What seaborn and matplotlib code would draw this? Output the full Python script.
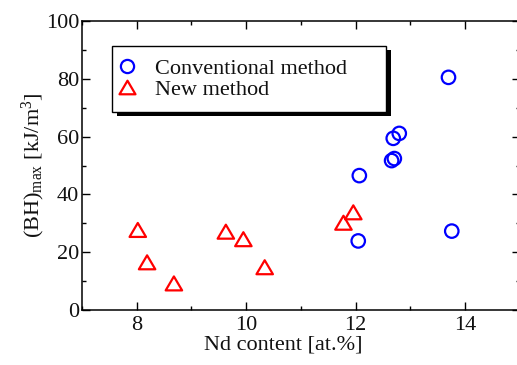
import numpy as np
import pandas as pd
import matplotlib
matplotlib.use("Agg")
import matplotlib.pyplot as plt
from matplotlib.lines import Line2D
from matplotlib.patches import Rectangle
from matplotlib.path import Path
import seaborn as sns

# Nd content [at.%] and (BH)max [kJ/m^3]
conv_nd = [13.70, 12.80, 12.69, 12.71, 12.66, 12.07, 12.05, 13.76]
conv_bh = [80.5, 61.1, 59.4, 52.4, 51.7, 46.5, 23.9, 27.3]
new_nd = [8.02, 8.19, 8.68, 9.63, 9.95, 10.34, 11.78, 11.96]
new_bh = [27.7, 16.5, 9.2, 27.1, 24.5, 14.8, 30.2, 33.8]
series = ["Conventional method", "New method"]

df = pd.DataFrame({
    "nd": conv_nd + new_nd,
    "bh": conv_bh + new_bh,
    "method": [series[0]] * len(conv_nd) + [series[1]] * len(new_nd),
})

sns.set_theme(style="ticks")
plt.rcParams["font.family"] = ["Liberation Serif", "DejaVu Serif"]
plt.rcParams["mathtext.fontset"] = "custom"
plt.rcParams["mathtext.rm"] = "Liberation Serif"
plt.rcParams["mathtext.it"] = "Liberation Serif:italic"

W, H = 517, 365
fig = plt.figure(figsize=(W / 100, H / 100), dpi=100)
ax = fig.add_axes([82 / W, (H - 310) / H, 437.6 / W, 289 / H])

tri = Path([(-1, -0.85), (1, -0.85), (0, 0.85), (-1, -0.85)],
           [Path.MOVETO, Path.LINETO, Path.LINETO, Path.CLOSEPOLY])
palette = {series[0]: "#0000ff", series[1]: "#ff0000"}
markers = {series[0]: "o", series[1]: tri}

for name in series:
    sub = df[df["method"] == name]
    sns.scatterplot(data=sub, x="nd", y="bh", ax=ax, marker=markers[name],
                    s=94 if name == series[0] else 140,
                    color=palette[name], legend=False, zorder=3)
    coll = ax.collections[-1]
    coll.set_facecolor("none")
    coll.set_edgecolor(palette[name])
    coll.set_linewidth(1.6)

ax.set_xlim(7, 15)
ax.set_ylim(0, 100)
ax.set_xticks([8, 10, 12, 14])
ax.set_xticks(np.arange(7, 16, 1), minor=True)
ax.set_yticks(np.arange(0, 101, 20))
ax.set_yticks(np.arange(0, 101, 10), minor=True)

for side in ["top", "bottom", "left", "right"]:
    ax.spines[side].set_linewidth(1.1)
    ax.spines[side].set_color("black")
ax.tick_params(which="both", direction="in", top=True, right=True,
               colors="black", width=1.0, labelsize=16, labelcolor="#111111")
ax.tick_params(which="major", length=5.5)
ax.tick_params(which="minor", length=3)
ax.tick_params(axis="y", pad=2)
ax.tick_params(axis="x", pad=4)

ax.set_xlabel("Nd content [at.%]", fontsize=16, color="#111111")
ax.set_ylabel(r"(BH)$_{\rm max}$ [kJ/m$^{3}$]", fontsize=16, color="#111111")
ax.xaxis.set_label_coords(0.46, -0.088)
ax.yaxis.set_label_coords(-0.08, 0.5)

handles = [
    Line2D([], [], ls="none", marker="o", ms=9.5, mfc="none",
           mec=palette[series[0]], mew=1.6),
    Line2D([], [], ls="none", marker=tri, ms=11.5, mfc="none",
           mec=palette[series[1]], mew=1.6),
]
leg = ax.legend(handles, series, loc="upper left",
                bbox_to_anchor=(0.068, 0.9145, 0.626, 0), mode="expand",
                borderaxespad=0, fontsize=16, frameon=True, fancybox=False,
                framealpha=1.0, borderpad=0.56, handlelength=0.25,
                handletextpad=1.15, labelspacing=0.02)
leg.get_frame().set_facecolor("white")
leg.get_frame().set_edgecolor("black")
leg.get_frame().set_linewidth(1.0)
leg.set_zorder(5)
for t in leg.get_texts():
    t.set_color("#111111")

# drop shadow behind the legend box
fig.canvas.draw()
bb = leg.get_frame().get_window_extent()
ax.add_patch(Rectangle((bb.x0 + 5, bb.y0 - 4), bb.width, bb.height,
                       transform=None, facecolor="black", edgecolor="none",
                       zorder=4.5, clip_on=False))

fig.savefig("out.png", dpi=100)
